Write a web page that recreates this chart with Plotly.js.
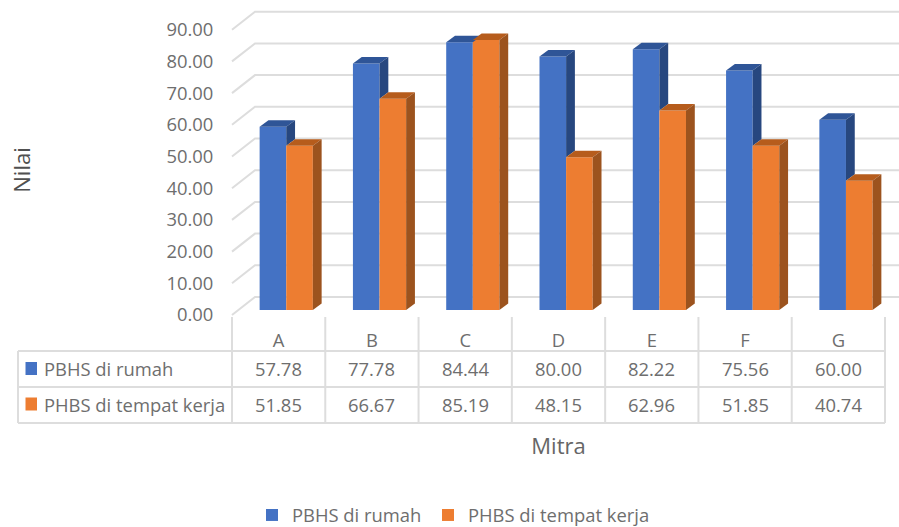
<!DOCTYPE html>
<html><head><meta charset="utf-8">
<script src="https://cdn.plot.ly/plotly-3.0.1.min.js"></script>
<style>html,body{margin:0;padding:0;background:#fff}</style>
</head><body><div id="chart" style="width:899px;height:527px"></div>
<script>
const categories = ['A','B','C','D','E','F','G'];
const rumahName = 'PBHS di rumah';
const kerjaName = 'PHBS di tempat kerja';
const rumah = [57.78,77.78,84.44,80.00,82.22,75.56,60.00];
const kerja = [51.85,66.67,85.19,48.15,62.96,51.85,40.74];
const gridValues = [0,10,20,30,40,50,60,70,80,90];

const W=899,H=527,L=232,R=885,T=25,B=315,yMax=91.48;
const unitX=(R-L)/7, unitY=(B-T)/yMax;
const px=v=>(v-L)/(R-L), py=v=>(B-v)/(B-T);
const C1='#4472C4',C2='#ED7D31',side1='#27477F',top1='#2F5597',side2='#9C531E',top2='#B65C1C';
const grey='#6E6E6E',lineColor='#DDDDDD',fontFam='"Open Sans", sans-serif',fs=18.4;
const barW=26.6/unitX, shift=7.6/unitX, base=5/unitY, dx=8.8/unitX, dy=6.5/unitY;
const idx=categories.map((_,i)=>i);

function poly(name,xs,ys,color){return {type:'scatter',mode:'lines',x:xs,y:ys,fill:'toself',fillcolor:color,
  line:{width:0,color:color},showlegend:false,hoverinfo:'skip',name:name};}
function faces(){
  const out=[];
  idx.forEach(i=>{
    const x0=i+shift-barW, x1=i+shift, x2=x1+barW, a=rumah[i]+base, b=kerja[i]+base, low=Math.min(a,b);
    out.push(poly('top1',[x0,x1,x1+dx,x0+dx,x0],[a,a,a+dy,a+dy,a],top1));
    out.push(poly('side1',[x1,x1+dx,x1+dx,x1,x1],[a,a+dy,low+dy,low,a],side1));
    out.push(poly('top2',[x1,x2,x2+dx,x1+dx,x1],[b,b,b+dy,b+dy,b],top2));
    out.push(poly('side2',[x2,x2+dx,x2+dx,x2,x2],[b,b+dy,base+dy,base,b],side2));
  });
  return out;
}
const data=[
 {type:'bar',name:rumahName,x:idx,y:rumah,base:base,width:barW,offset:shift-barW,marker:{color:C1,line:{width:0}},legend:'legend'},
 {type:'bar',name:kerjaName,x:idx,y:kerja,base:base,width:barW,offset:shift,marker:{color:C2,line:{width:0}},legend:'legend2'},
 ...faces()
];
const shapes=[],annotations=[];
const wallX=23, wallY=18;
gridValues.forEach(v=>{
  const y0=B-v*unitY;
  shapes.push({type:'path',xref:'paper',yref:'paper',layer:'below',
    path:`M${px(L)},${py(y0)} L${px(L+wallX)},${py(y0-wallY)} L${px(W)},${py(y0-wallY)}`,
    line:{color:lineColor,width:2}});
});
function seg(x0,y0,x1,y1){shapes.push({type:'line',xref:'paper',yref:'paper',x0:px(x0),x1:px(x1),y0:py(y0),y1:py(y1),line:{color:lineColor,width:2},layer:'below'});}
const tLeft=18,r0=351,r1=387,r2=423,colTop=317;
[r0,r1,r2].forEach(r=>seg(tLeft,r,R,r));
seg(tLeft,r0,tLeft,r2);
for(let i=0;i<=7;i++) seg(L+i*unitX,colTop,L+i*unitX,r2);
function swatch(y,c){shapes.push({type:'rect',xref:'paper',yref:'paper',x0:px(25.5),x1:px(37),y0:py(y-6.5),y1:py(y+6.5),fillcolor:c,line:{width:0}});}
swatch(368.5,C1);swatch(404,C2);
function addLabel(text,x,y,xanchor,xref){annotations.push({text:text,x:x,y:py(y),xref:xref,yref:'paper',xanchor:xanchor,yanchor:'middle',showarrow:false,font:{family:fontFam,size:fs,color:grey}});}
addLabel(rumahName,px(42),368.5,'left','paper');
addLabel(kerjaName,px(42),404,'left','paper');
idx.forEach(i=>{
  addLabel(rumah[i].toFixed(2),i,368.5,'center','x');
  addLabel(kerja[i].toFixed(2),i,404,'center','x');
});
function legendAt(x){return {orientation:'h',xref:'container',yref:'container',x:x/W,xanchor:'left',y:(H-515)/H,yanchor:'middle',
  font:{family:fontFam,size:fs,color:grey},itemclick:false,itemdoubleclick:false,bgcolor:'rgba(0,0,0,0)'};}
const layout={width:W,height:H,margin:{l:L,r:W-R,t:T,b:H-B,pad:0},paper_bgcolor:'#fff',plot_bgcolor:'rgba(0,0,0,0)',
 font:{family:fontFam,size:fs,color:grey},showlegend:true,barmode:'overlay',
 xaxis:{type:'linear',range:[-0.5,6.5],tickmode:'array',tickvals:idx,ticktext:categories,showgrid:false,zeroline:false,showline:false,
   ticks:'outside',ticklen:9,tickcolor:'rgba(0,0,0,0)',tickfont:{family:fontFam,size:fs,color:grey},
   title:{text:'Mitra',standoff:87,font:{family:fontFam,size:22,color:'#666666'}},automargin:false},
 yaxis:{range:[0,yMax],tickmode:'array',tickvals:gridValues,tickformat:'.2f',showgrid:false,zeroline:false,showline:false,
   ticks:'outside',ticklen:14,tickcolor:'rgba(0,0,0,0)',tickfont:{family:fontFam,size:fs,color:grey},
   title:{text:'Nilai',standoff:129,font:{family:fontFam,size:22,color:'#505050'}},automargin:false},
 legend:legendAt(252),legend2:legendAt(428),
 shapes:shapes,annotations:annotations};
Plotly.newPlot('chart',data,layout,{displayModeBar:false,staticPlot:true});
</script></body></html>
